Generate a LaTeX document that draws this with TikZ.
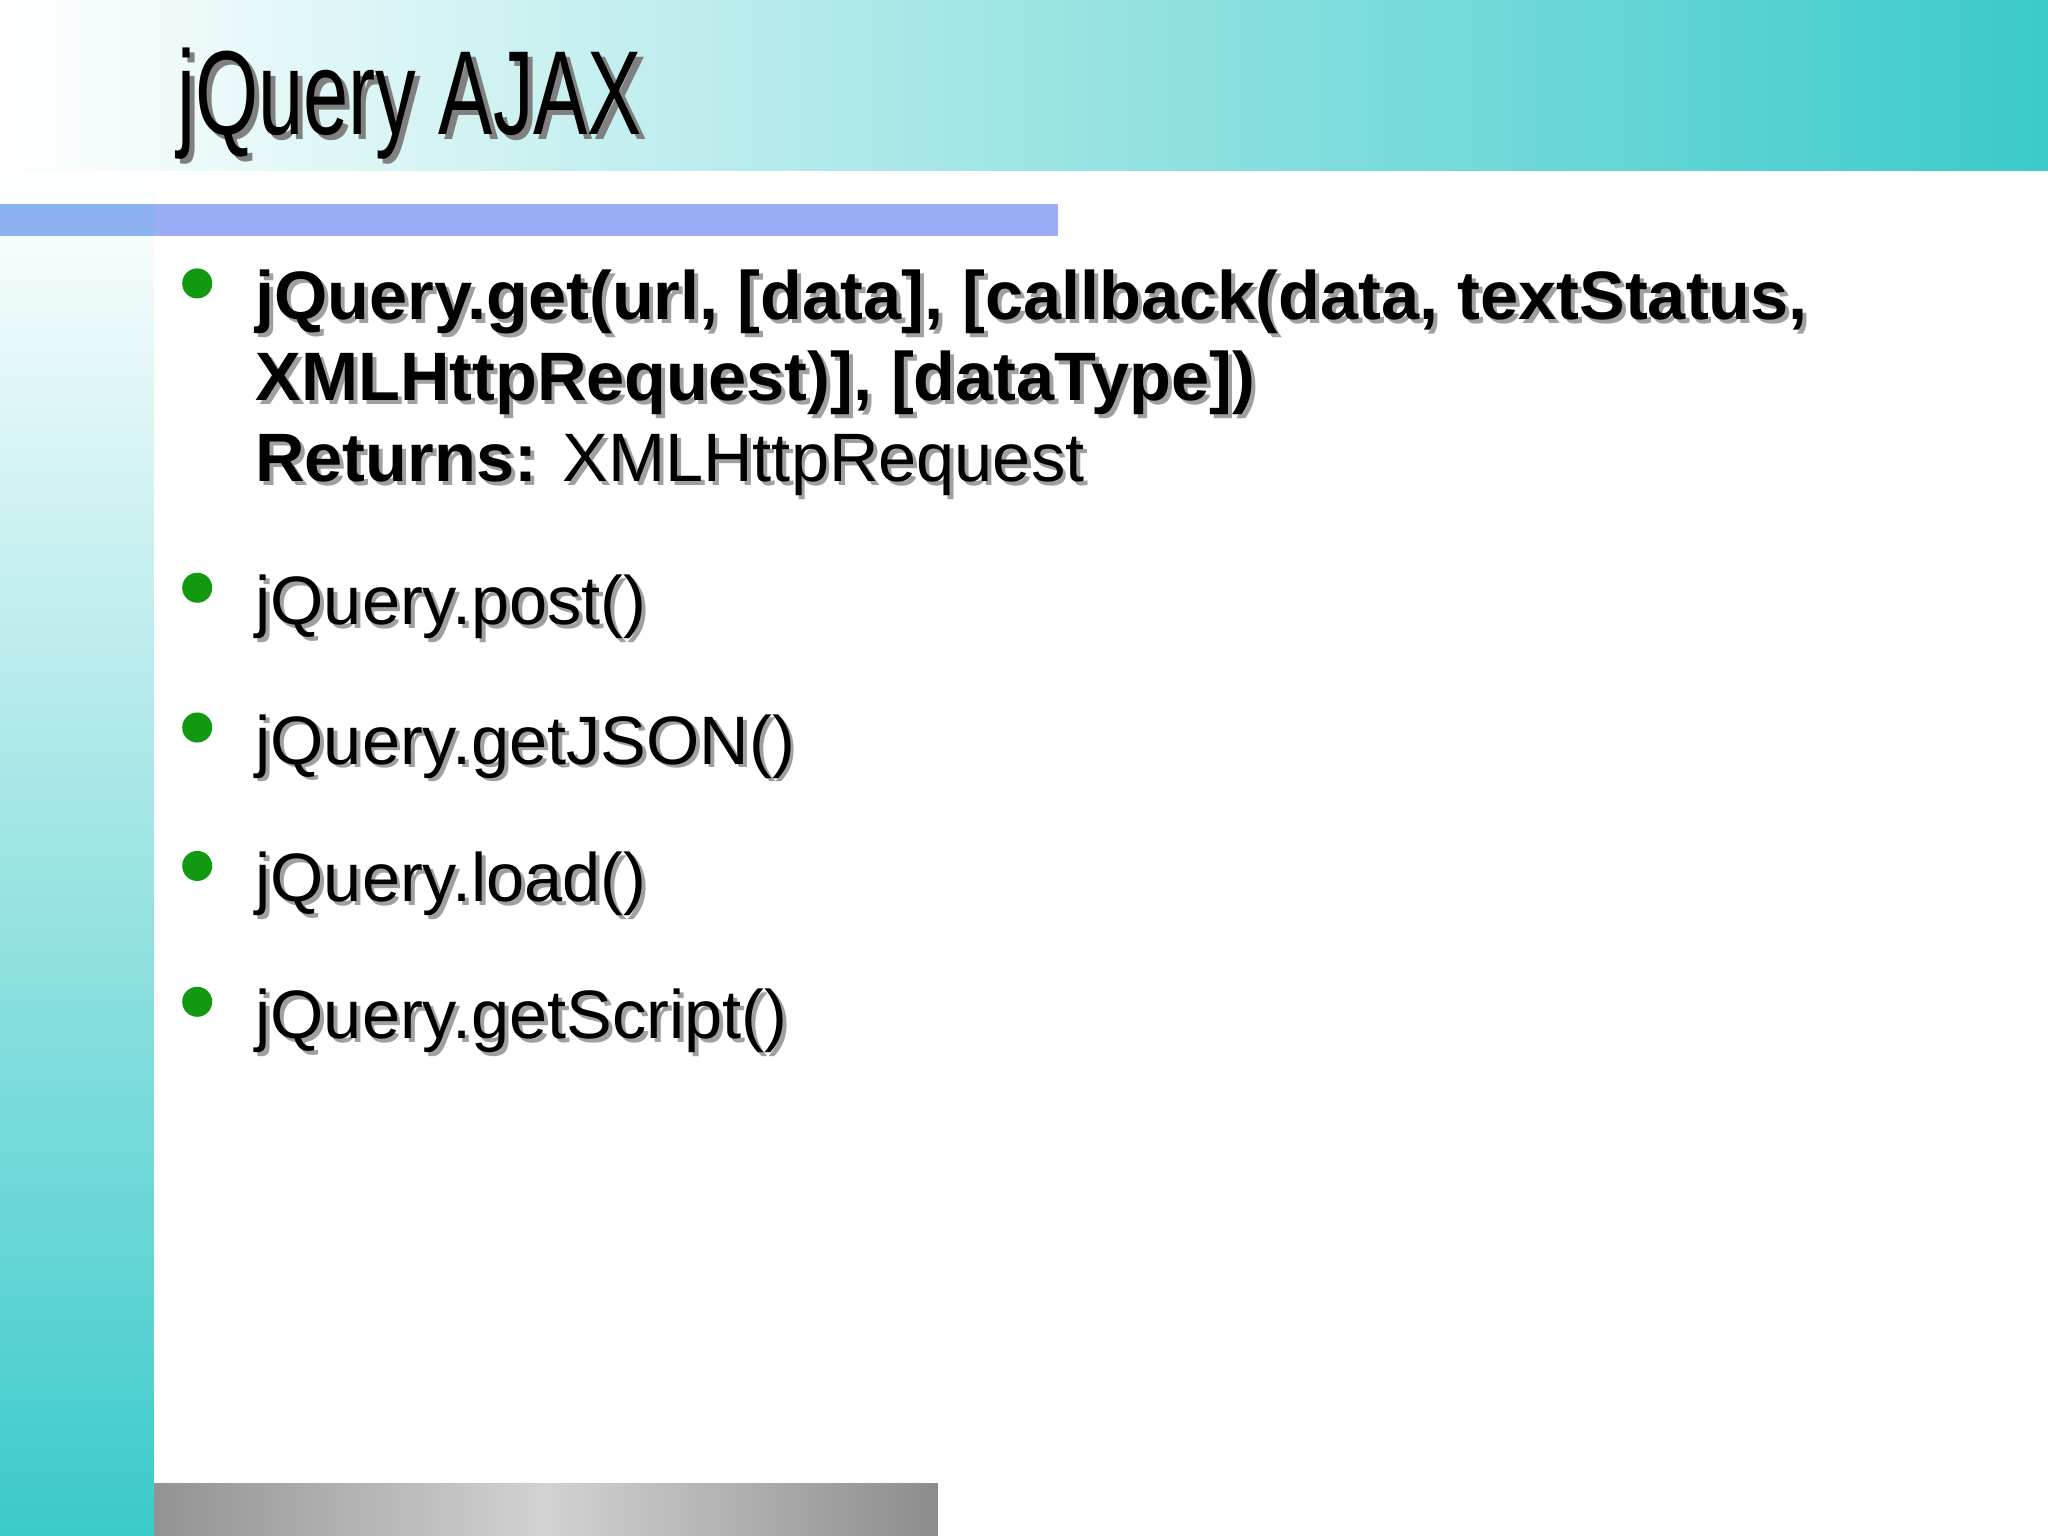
\documentclass[tikz,border=0pt]{standalone}
\usepackage{fontspec}
\setmainfont{Liberation Sans}
\usetikzlibrary{shadings}
\definecolor{teal1}{HTML}{3CCACA}
\definecolor{bluebar}{HTML}{9AAEF6}
\definecolor{bul}{HTML}{119911}
\definecolor{shad}{HTML}{A0A0A0}
\tikzset{
  txt/.style={anchor=base west,inner sep=0pt,font=\fontsize{19.5}{23.4}\selectfont},
  sh/.style={txt,text=shad},
  bullet/.style={circle,fill=bul,minimum size=23\pgfxx,inner sep=0pt}
}
\newlength\pgfxx \setlength\pgfxx{0.01306cm}
\begin{document}
\begin{tikzpicture}[x=0.01306cm,y=-0.01306cm]
\useasboundingbox (0,0) rectangle (1568,1176);
\fill[white] (0,0) rectangle (1568,1176);
% top band
\shade[left color=white,right color=teal1] (0,0) rectangle (1568,131);
% left band
\shade[top color=white,bottom color=teal1] (0,131) rectangle (118,1176);
\fill[white] (118,131) rectangle (1568,1176);
% blue bar
\fill[bluebar] (0,156) rectangle (810,181);
\fill[bluebar!85!teal1] (0,156) rectangle (118,181);
% bottom bar
\shade[left color=gray!85,right color=gray!90,middle color=gray!35] (118,1136) rectangle (718,1176);
% title
\node[anchor=base west,inner sep=0pt,text=gray] (ts) at (139,107) {\fontsize{34}{36}\selectfont\scalebox{0.68}[1]{jQuery AJAX}};
\node[anchor=base west,inner sep=0pt] (t) at (135,103) {\fontsize{34}{36}\selectfont\scalebox{0.68}[1]{jQuery AJAX}};
% bullets
\foreach \n/\y in {b1/217,b2/450,b3/557,b4/663,b5/767}{\node[bullet] (\n) at (151,\y) {};}
% text with shadow
\foreach \dx/\st in {3/sh,0/txt}{
 \node[\st] (l1\st) at (195+\dx,245+\dx) {\bfseries jQuery.get(url, [data], [callback(data, textStatus,};
 \node[\st] (l2\st) at (195+\dx,307+\dx) {\bfseries XMLHttpRequest)], [dataType])};
 \node[\st] (l3\st) at (195+\dx,369+\dx) {\textbf{Returns:} XMLHttpRequest};
 \node[\st] (l4\st) at (195+\dx,478+\dx) {jQuery.post()};
 \node[\st] (l5\st) at (195+\dx,585+\dx) {jQuery.getJSON()};
 \node[\st] (l6\st) at (195+\dx,690+\dx) {jQuery.load()};
 \node[\st] (l7\st) at (195+\dx,795+\dx) {jQuery.getScript()};
}
\end{tikzpicture}
\end{document}
